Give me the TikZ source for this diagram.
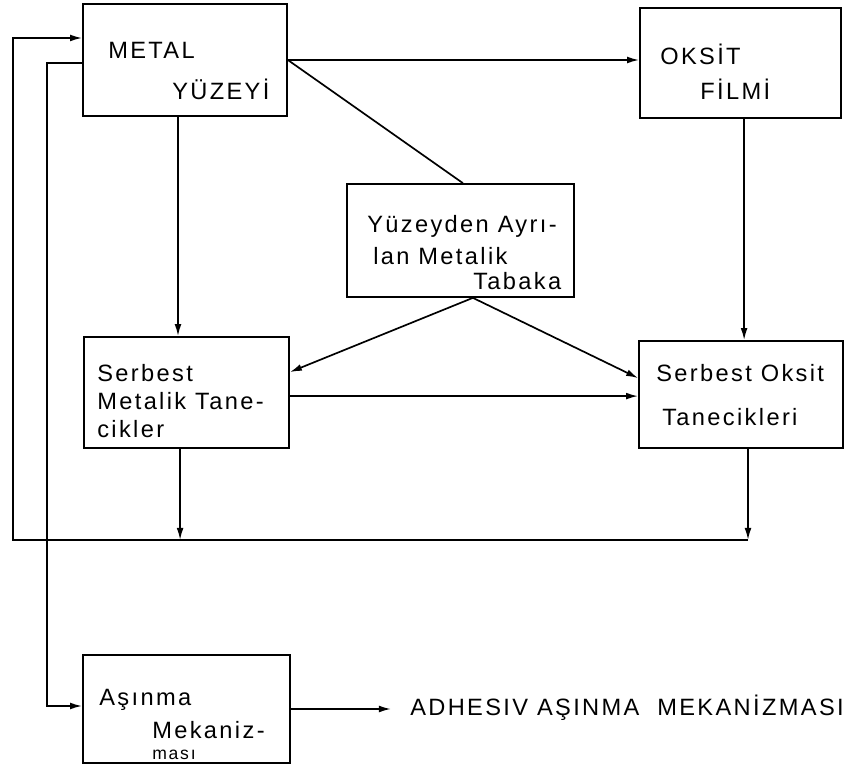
\documentclass[tikz,border=0pt]{standalone}
\usepackage{fontspec}
\setmainfont{Liberation Sans}[LetterSpace=10]
\usetikzlibrary{arrows.meta}

\begin{document}
\begin{tikzpicture}[x=0.025cm, y=-0.025cm,
    box/.style={draw, line width=1.2pt, inner sep=0pt},
    txt/.style={anchor=base west, inner sep=0pt, font=\fontsize{16.8}{18}\selectfont},
    smalltxt/.style={anchor=base west, inner sep=0pt, font=\fontsize{12.5}{14}\selectfont},
    wire/.style={line width=1.2pt},
    arr/.style={wire, -{Latex[length=3mm,width=1.7mm]}},
  ]
  \useasboundingbox (0,0) rectangle (848,766);

  % ---- boxes
  \node[box, minimum width=5.1cm,   minimum height=2.8cm]   (metal) at (185,60)      {};
  \node[box, minimum width=5.025cm, minimum height=2.75cm]  (oksit) at (740.5,63)    {};
  \node[box, minimum width=5.675cm, minimum height=2.825cm] (ayri)  at (460.5,240.5) {};
  \node[box, minimum width=5.125cm, minimum height=2.775cm] (smet)  at (186.5,392.5) {};
  \node[box, minimum width=5.1cm,   minimum height=2.675cm] (sok)   at (741,394.5)   {};
  \node[box, minimum width=5.175cm, minimum height=2.7cm]   (asin)  at (186.5,709)   {};

  % ---- texts
  \node[txt] (metalA) at (108,59)  {METAL};
  \node[txt] (metalB) at (172,100) {YÜZEYİ};
  \node[txt] (oksitA) at (660,65)  {OKSİT};
  \node[txt] (oksitB) at (700,100) {FİLMİ};
  \node[txt] (ayriA)  at (367,233) {Yüzeyden Ayrı-};
  \node[txt] (ayriB)  at (373,265) {lan Metalik};
  \node[txt] (ayriC)  at (473,290) {Tabaka};
  \node[txt] (smetA)  at (97,382)  {Serbest};
  \node[txt] (smetB)  at (97,410)  {Metalik Tane-};
  \node[txt] (smetC)  at (97,438)  {cikler};
  \node[txt] (sokA)   at (656,382) {Serbest Oksit};
  \node[txt] (sokB)   at (662,426) {Tanecikleri};
  \node[txt] (asinA)  at (99,705)  {Aşınma};
  \node[txt] (asinB)  at (152,738) {Mekaniz-};
  \node[smalltxt] (asinC) at (152,759) {ması};
  \node[txt] (adh)    at (410,715) {ADHESIV AŞINMA\ \ MEKANİZMASI};

  % ---- connectors
  \coordinate (loop) at (13,540);
  \coordinate (drop) at (47,706);
  \coordinate (split) at ([xshift=0.31cm]ayri.south);
  \draw[arr] (metal.east) -- (metal.east -| oksit.west);
  \draw[wire] (metal.east) -- ([xshift=0.06cm]ayri.north);
  \draw[arr] ([xshift=-0.175cm]metal.south) -- ([xshift=-0.175cm]metal.south |- smet.north);
  \draw[arr] ([xshift=0.09cm]oksit.south) -- ([xshift=0.09cm]oksit.south |- sok.north);
  \draw[arr] (split) -- ([yshift=0.51cm]smet.east);
  \draw[arr] (split) -- ([yshift=0.41cm]sok.west);
  \draw[arr] ([yshift=-0.09cm]smet.east) -- ([yshift=-0.09cm]smet.east -| sok.west);
  \draw[arr] ([xshift=-0.16cm]smet.south) -- ([xshift=-0.16cm]smet.south |- loop);
  \draw[arr] ([xshift=0.175cm]sok.south) -- ([xshift=0.175cm]sok.south |- loop);
  \draw[arr] ([xshift=0.175cm]sok.south |- loop) -- (loop) |- ([yshift=0.55cm]metal.west);
  \draw[arr] ([yshift=-0.075cm]metal.west) -| (drop) -- (drop -| asin.west);
  \draw[arr] (asin.east) -- ([xshift=-0.475cm]adh.west |- asin.east);
\end{tikzpicture}
\end{document}
